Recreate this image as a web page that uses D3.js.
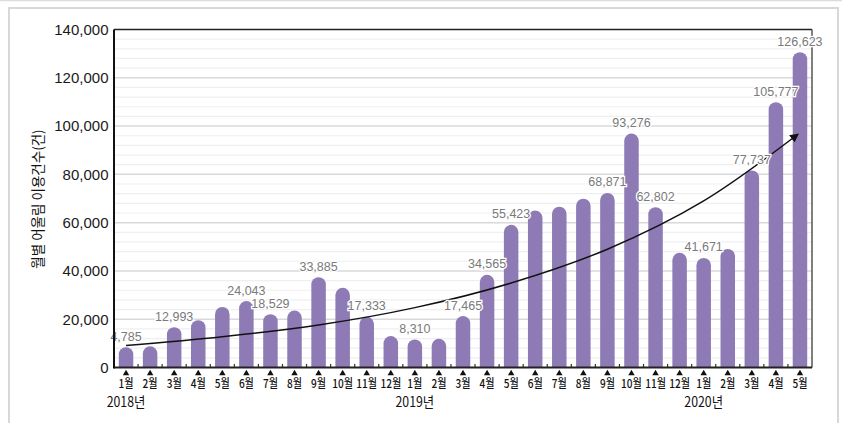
<!DOCTYPE html>
<html><head><meta charset="utf-8">
<script src="https://cdn.jsdelivr.net/npm/d3@7"></script>
<style>
html,body{margin:0;padding:0;background:#fff;}
svg{display:block;}
</style></head>
<body>
<svg id="c" width="842" height="423"></svg>
<script>
const months = ["1월","2월","3월","4월","5월","6월","7월","8월","9월","10월","11월","12월",
                "1월","2월","3월","4월","5월","6월","7월","8월","9월","10월","11월","12월",
                "1월","2월","3월","4월","5월"];
const values = [8400, 8800, 16700, 19600, 25100, 27500, 22100, 23600, 37400, 33000, 21000, 13000,
                11600, 11900, 21300, 38400, 59100, 65000, 66600, 69900, 72300, 96900, 66400, 47500,
                45400, 49100, 81600, 109900, 130600];
const labelIndex = [0, 2, 5, 6, 8, 10, 12, 14, 15, 16, 20, 21, 22, 24, 26, 27, 28];
const labelText = ["4,785","12,993","24,043","18,529","33,885","17,333","8,310","17,465","34,565",
                   "55,423","68,871","93,276","62,802","41,671","77,737","105,777","126,623"];
const years = ["2018년","2019년","2020년"];
const yearStart = [0, 12, 24];
const yTicks = [0, 20000, 40000, 60000, 80000, 100000, 120000, 140000];
const trendIdx = [0, 4, 8, 12, 16, 20, 24, 27.9];
const trendVal = [9100, 12700, 17600, 24800, 35000, 49000, 69000, 96500];
const yTitle = "월별 어울림 이용건수(건)";

const svg = d3.select("#c");
const L = 114, R = 812, T = 29.5, B = 367.5;
const x = d3.scaleBand().domain(d3.range(values.length)).range([L, R]).padding(0);
const y = d3.scaleLinear().domain([0, 140000]).range([B, T]);
const xc = i => x(i) + x.bandwidth() / 2;
const xLin = d3.scaleLinear().domain([-0.5, values.length - 0.5]).range([L, R]);

// outer frame
svg.append("line").attr("x1",0).attr("x2",842).attr("y1",0.5).attr("y2",0.5).attr("stroke","#dcdcdc").attr("stroke-width",1.5);
svg.append("rect").attr("x",9).attr("y",8).attr("width",829).attr("height",440)
  .attr("fill","none").attr("stroke","#d8d8d8").attr("stroke-width",2);

// grid minor / major
const minor = d3.range(0, 140001, 4000).filter(v => v % 20000 !== 0);
svg.append("g").selectAll("line").data(minor).join("line")
  .attr("x1", L).attr("x2", R).attr("y1", d => y(d)).attr("y2", d => y(d))
  .attr("stroke", "#efefef").attr("stroke-width", 1.2);
svg.append("g").selectAll("line").data(yTicks.filter(v => v > 0 && v < 140000)).join("line")
  .attr("x1", L).attr("x2", R).attr("y1", d => y(d)).attr("y2", d => y(d))
  .attr("stroke", "#d9d9d9").attr("stroke-width", 1.5);

// bars with rounded tops
const bw = 14.5;
svg.append("g").selectAll("path").data(values).join("path")
  .attr("fill", "#8e7bb5")
  .attr("d", (v, i) => {
    const cx = xc(i), r = bw / 2, top = y(v), bot = y(0);
    return `M${cx - r},${bot} L${cx - r},${top + r} A${r},${r} 0 0 1 ${cx + r},${top + r} L${cx + r},${bot} Z`;
  });

// plot frame
svg.append("line").attr("x1", L).attr("x2", R).attr("y1", T).attr("y2", T).attr("stroke", "#222").attr("stroke-width", 1.5);
svg.append("line").attr("x1", R).attr("x2", R).attr("y1", T).attr("y2", B).attr("stroke", "#555").attr("stroke-width", 1.5);

// x ticks (band boundaries)
svg.append("g").selectAll("line").data(d3.range(1, values.length)).join("line")
  .attr("x1", d => L + x.step() * d).attr("x2", d => L + x.step() * d)
  .attr("y1", B - 3.5).attr("y2", B).attr("stroke", "#333").attr("stroke-width", 1.2);

svg.append("line").attr("x1", L).attr("x2", R).attr("y1", B).attr("y2", B).attr("stroke", "#222").attr("stroke-width", 1.8);

// trend curve with arrow
const defs = svg.append("defs");
defs.append("marker").attr("id", "arr").attr("viewBox", "0 0 10 10").attr("refX", 8).attr("refY", 5)
  .attr("markerWidth", 9).attr("markerHeight", 9).attr("markerUnits", "userSpaceOnUse").attr("orient", "auto")
  .append("path").attr("d", "M0,0 L10,5 L0,10 Z").attr("fill", "#111");
const tline = d3.line().x(d => xLin(d[0])).y(d => y(d[1])).curve(d3.curveCatmullRom);
svg.append("path").datum(trendIdx.map((d, i) => [d, trendVal[i]]))
  .attr("d", tline).attr("fill", "none").attr("stroke", "#111").attr("stroke-width", 1.5)
  .attr("marker-end", "url(#arr)");

// value labels
svg.append("g").selectAll("text").data(labelIndex).join("text")
  .attr("x", d => xc(d)).attr("y", d => y(values[d]) - 6.5)
  .attr("text-anchor", "middle")
  .attr("font-family", "'Liberation Sans', Arial, sans-serif").attr("font-size", 12.5)
  .attr("fill", "#7a7a7a")
  .attr("stroke", "#fff").attr("stroke-width", 2.5).attr("paint-order", "stroke")
  .text((d, i) => labelText[i]);

svg.append("line").attr("x1", L).attr("x2", L).attr("y1", T).attr("y2", B + 1).attr("stroke", "#111").attr("stroke-width", 2);

// y tick labels
svg.append("g").selectAll("text").data(yTicks).join("text")
  .attr("x", 108.5).attr("y", d => y(d)).attr("dy", "0.36em")
  .attr("text-anchor", "end")
  .attr("font-family", "'Liberation Sans', Arial, sans-serif").attr("font-size", 15)
  .attr("fill", "#1a1a1a")
  .text(d => d3.format(",")(d));

// triangles
svg.append("g").selectAll("path").data(values).join("path")
  .attr("transform", (v, i) => `translate(${xc(i)},${B + 6})`)
  .attr("d", d3.symbol(d3.symbolTriangle, 18)())
  .attr("fill", "#111");

// month labels
svg.append("g").selectAll("text").data(months).join("text")
  .attr("transform", (m, i) => `translate(${xc(i)},${B + 20.5}) scale(0.84,1)`)
  .attr("text-anchor", "middle")
  .attr("font-family", "'Noto Sans CJK KR', sans-serif").attr("font-size", 12).attr("font-weight", 500)
  .attr("fill", "#111")
  .text(d => d);

// year labels
svg.append("g").selectAll("text").data(years).join("text")
  .attr("transform", (t, i) => `translate(${xc(yearStart[i])},${B + 39.5}) scale(0.88,1)`)
  .attr("text-anchor", "middle")
  .attr("font-family", "'Noto Sans CJK KR', sans-serif").attr("font-size", 14)
  .attr("fill", "#111")
  .text(d => d);

// y title
svg.append("text")
  .attr("transform", "translate(43,199) rotate(-90)")
  .attr("text-anchor", "middle")
  .attr("font-family", "'Noto Sans CJK KR', sans-serif").attr("font-size", 13.5)
  .attr("fill", "#111")
  .text(yTitle);
</script>
</body></html>
